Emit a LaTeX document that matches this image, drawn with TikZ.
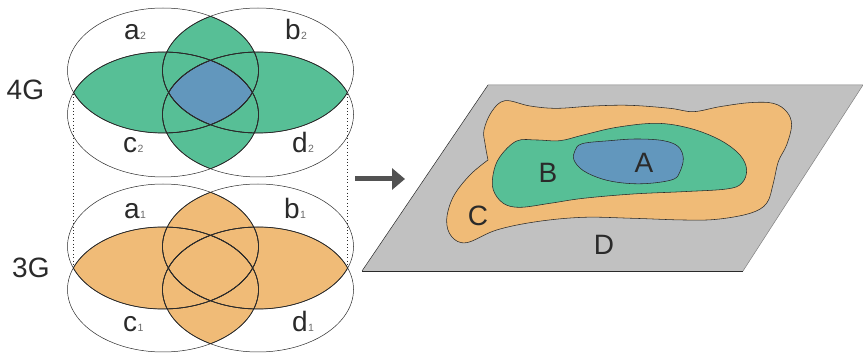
\documentclass[tikz,border=0pt]{standalone}
\usepackage{fontspec}
\setmainfont{Liberation Sans}
\usetikzlibrary{arrows.meta}
\definecolor{mygreen}{HTML}{57BF96}
\definecolor{myblue}{HTML}{6297BD}
\definecolor{myorange}{HTML}{F0BB77}
\definecolor{mygray}{HTML}{C1C1C1}
\definecolor{myink}{HTML}{2A2A2A}
\newcommand\EL[2]{(#1,#2) ellipse [x radius=95.5,y radius=62.5]}
% region covered by at least two ellipses, its darker outline, then the thin ellipses
\newcommand\VennFill[3]{%
  \foreach \xa/\ya/\xb/\yb in {163/#1/258/#1,163/#1/163/#2,163/#1/258/#2,258/#1/163/#2,258/#1/258/#2,163/#2/258/#2}{%
    \begin{scope}\clip \EL{\xa}{\ya};\fill[#3] \EL{\xb}{\yb};\end{scope}}}
\newcommand\VennLines[2]{%
  \foreach \xa/\ya in {163/#1,258/#1,163/#2,258/#2}{\draw[thinring] \EL{\xa}{\ya};}
  \foreach \xa/\ya/\xb/\yb in {163/#1/258/#1,163/#1/163/#2,163/#1/258/#2,258/#1/163/#2,258/#1/258/#2,163/#2/258/#2}{%
    \begin{scope}\clip \EL{\xa}{\ya};\draw[lensline] \EL{\xb}{\yb};\end{scope}
    \begin{scope}\clip \EL{\xb}{\yb};\draw[lensline] \EL{\xa}{\ya};\end{scope}}}
\tikzset{
  thinring/.style={draw=myink,line width=0.5pt},
  lensline/.style={draw=myink,line width=0.7pt},
  guide/.style={draw=myink,line width=0.7pt,dash pattern=on 0.8pt off 2.6pt},
  bigtext/.style={font=\fontsize{28}{32}\selectfont,text=myink,anchor=base west,inner sep=0pt},
  setname/.style={font=\fontsize{28}{32}\selectfont,text=myink,anchor=base,inner sep=0pt},
  subtext/.style={font=\fontsize{10.5}{13}\selectfont,text=myink!70,anchor=base west,inner sep=0pt},
  blob/.style={draw=myink,line width=0.55pt},
}
\begin{document}
\begin{tikzpicture}[x=1pt,y=-1pt]
\useasboundingbox (0,0) rectangle (863,355);
% fills
\VennFill{246.5}{289.5}{myorange}
\VennFill{70.5}{114.5}{mygreen}
\begin{scope}
  \clip \EL{163}{70.5};\clip \EL{258}{70.5};\clip \EL{163}{114.5};\fill[myblue] \EL{258}{114.5};
\end{scope}
% guides
\coordinate (tl) at (73.3,94);\coordinate (bl) at (73.3,266);
\coordinate (tr) at (347,94);\coordinate (br) at (347,266);
\draw[guide] (tl) -- (bl);
\draw[guide] (tr) -- (br);
\VennLines{70.5}{114.5}
\VennLines{246.5}{289.5}
% labels
\node[bigtext] (n4g) at (6.5,100) {4G};
\node[bigtext] (n3g) at (12,278) {3G};
\node[bigtext] (a2) at (124,40) {a};\node[subtext] at (a2.base east) {2};
\node[bigtext] (b2) at (285,40) {b};\node[subtext] at (b2.base east) {2};
\node[bigtext] (c2) at (123,153) {c};\node[subtext] at (c2.base east) {2};
\node[bigtext] (d2) at (292,153) {d};\node[subtext] at (d2.base east) {2};
\node[bigtext] (a1) at (124,219) {a};\node[subtext] at (a1.base east) {1};
\node[bigtext] (b1) at (284,219) {b};\node[subtext] at (b1.base east) {1};
\node[bigtext] (c1) at (123,332) {c};\node[subtext] at (c1.base east) {1};
\node[bigtext] (d1) at (292,332) {d};\node[subtext] at (d1.base east) {1};
% arrow
\coordinate (as) at (355,179);\coordinate (ae) at (405,179);
\draw[draw=black!68,line width=5pt,-{Triangle[length=13pt,width=21pt]}] (as) -- (ae);
% plane
\fill[mygray] (488,85) -- (863,85) -- (743,271) -- (362,271) -- cycle;
\draw[myink,line width=0.5pt] (362,271) -- (488,85);
\draw[myink,line width=0.5pt] (743,271) -- (362,271);
\draw[black!50,line width=0.5pt] (488,85) -- (863,85) -- (743,271);
\begin{scope}[shift={(350,80)},x=0.3333pt,y=-0.3333pt]
\draw[blob,fill=myorange] plot[smooth,tension=0.6] coordinates {(414,240) (405,190) (402,150) (425,95) (465,62) (540,78) (620,85) (730,78) (840,76) (960,85) (1030,95) (1110,80) (1200,68) (1270,70) (1310,95) (1325,135) (1310,195) (1285,245) (1270,310) (1250,370) (1200,400) (1100,418) (1000,420) (850,415) (700,412) (560,425) (440,450) (350,488) (305,470) (290,420) (310,350) (360,285) (414,240)} -- cycle;
\draw[blob,fill=mygreen] plot[smooth cycle,tension=0.6] coordinates {(500,183) (560,180) (630,182) (700,165) (800,142) (920,130) (1020,145) (1110,180) (1170,225) (1190,270) (1175,310) (1130,327) (1000,335) (850,342) (700,355) (600,370) (510,382) (460,370) (430,330) (430,280) (450,230)};
\draw[blob,fill=myblue] plot[smooth cycle,tension=0.6] coordinates {(697,191) (780,182) (860,177) (940,182) (985,200) (1000,235) (990,275) (970,298) (900,310) (830,310) (760,298) (700,272) (672,240) (675,212)};
\end{scope}
\node[setname] (A) at (644,173) {A};
\node[setname] (B) at (548,183) {B};
\node[setname] (C) at (478,226) {C};
\node[setname] (D) at (604,255) {D};
\end{tikzpicture}
\end{document}
